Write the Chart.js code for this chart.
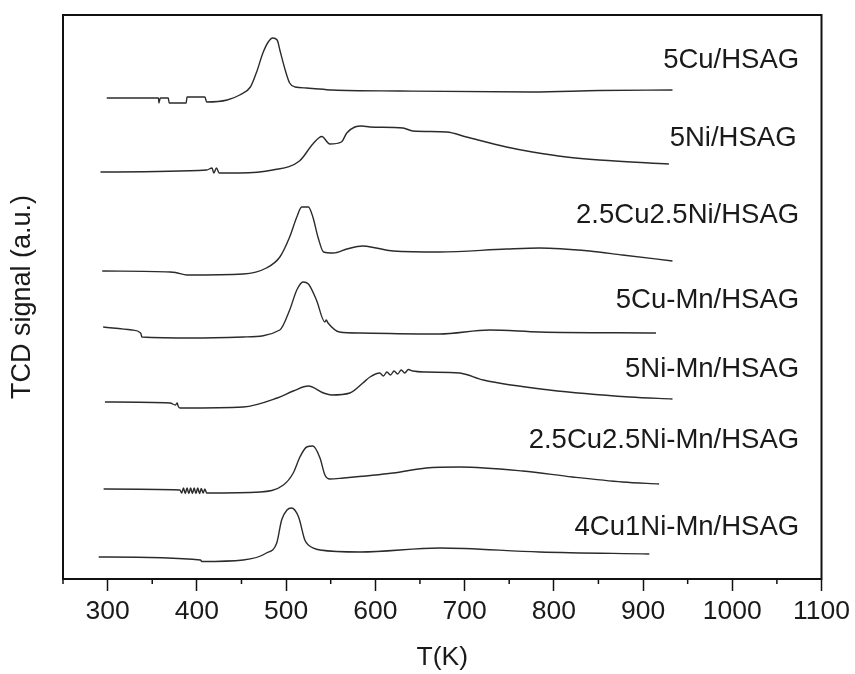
<!DOCTYPE html>
<html><head><meta charset="utf-8">
<script src="https://cdn.jsdelivr.net/npm/chart.js@4.4.0/dist/chart.umd.min.js"></script>
<style>html,body{margin:0;padding:0;background:#fff;}canvas{display:block;}</style>
</head><body>
<canvas id="c" width="855" height="674"></canvas>
<script>
// ---- data (T in K, TCD signal in a.u.) ----
const seriesNames = ["5Cu/HSAG","5Ni/HSAG","2.5Cu2.5Ni/HSAG","5Cu-Mn/HSAG","5Ni-Mn/HSAG","2.5Cu2.5Ni-Mn/HSAG","4Cu1Ni-Mn/HSAG"];

const T_5Cu = [299,357,357.5,359,368,369,388,389,409,411,434,448,460,467,474,480,485,490,493,499,504,510,523,552,627,776,851,933];
const S_5Cu = [481,481,476,481,481,476,476,482,482,477,479,484,492,507,526,537,541,539,529,509,496,492,491,489,488,487,488.5,489];

const T_5Ni = [292,411,417,419,422,425,429,448,485,515,530,540,549,562,568,577,585,594,631,642,680,702,747,776,814,851,929];
const S_5Ni = [407,409,411,406,411,406,406,406,409,418,435,442.5,435,437,446,452,453,452,451,448,447,442,432,427,422,419,415];

const T_CuNi = [294,370,376,389,452,478,493,504,512,517.5,525,530,536,542,553,568,586,601,620,672,747,784,840,877,933];
const S_CuNi = [308,307,306.5,304,305,311,322,342,362,372,372,362,341,327,326,330,333,331,328,327,330,331,328,324,318];

const T_CuMn = [295,327,337,338.5,396,452,493,504,512,519,525,534,543.5,545,547,560,583,672,728,784,914.5];
const S_CuMn = [252,249,246,242,241,242,249,269,289,297,295,279,257,259,256,247,246,245,249,247,246];

const T_NiMn = [297,370,376,378,379,381,385,452,490,508,525,542,551,571.5,586,594,605,609,613,617,621,625,629,633,637,642,657,694.5,721,795,885,933];
const S_NiMn = [177,176,174,176,173,171,171,172,181,188,193,186,184,186,196,202,206,203,207,204,208,205,209,206,209.5,208,207,206,199,189,182,180];

const T_CuNiMn = [295.5,381,383,385,387,389,391,393,395,397,399,401,403,405,407,409,411,471,497,508,515.5,523,530,538,543.5,549,564,620,657,694.5,765,821,877,918];
const S_CuNiMn = [90,89,86,91,85.5,91,85.5,91,85.5,91,85.5,91,85.5,90.5,86,90,86,87,94,106,122,132,133,121,104,100,101,106,111,112,108,102,97,95];

const T_4Cu1Ni = [290,404,405.6,452,478,489.5,495,501,506,514,521,525,538,583,672,784,907];
const S_4Cu1Ni = [22,19,17.5,19,26,36,59,69,71,62,39,34,29,27,31,27,25];

const xTickValues = [300,400,500,600,700,800,900,1000,1100];
const xTickLabels = ["300","400","500","600","700","800","900","1000","1100"];
const xMinorTicks = [250,350,450,550,650,750,850,950,1050];

// ---- build ----
const seriesT = [T_5Cu,T_5Ni,T_CuNi,T_CuMn,T_NiMn,T_CuNiMn,T_4Cu1Ni];
const seriesS = [S_5Cu,S_5Ni,S_CuNi,S_CuMn,S_NiMn,S_CuNiMn,S_4Cu1Ni];

const FONT = '"Liberation Sans", Arial, Helvetica, sans-serif';
Chart.defaults.font.family = FONT;
Chart.defaults.color = '#1a1a1a';

const datasets = seriesNames.map((name,i)=>({
  label: name,
  data: seriesT[i].map((t,j)=>({x:t, y:seriesS[i][j]})),
  borderColor: '#2b2b2b',
  borderWidth: 1.4,
  pointRadius: 0,
  fill: false,
  cubicInterpolationMode: 'monotone'
}));

const framePlugin = {
  id: 'frame',
  afterDraw(chart){
    const {ctx, chartArea:a, scales:{x}} = chart;
    ctx.save();
    ctx.strokeStyle = '#111';
    ctx.lineWidth = 1.5;
    xMinorTicks.forEach(v=>{
      const px = x.getPixelForValue(v);
      ctx.beginPath(); ctx.moveTo(px, a.bottom); ctx.lineTo(px, a.bottom+5); ctx.stroke();
    });
    ctx.lineWidth = 2;
    ctx.strokeRect(a.left, a.top, a.right-a.left, a.bottom-a.top);
    ctx.restore();
  }
};

const labelPlugin = {
  id: 'seriesLabels',
  afterDatasetsDraw(chart, args, opts){
    const {ctx, scales:{x,y}} = chart;
    ctx.save();
    ctx.font = opts.font;
    ctx.fillStyle = '#1a1a1a';
    ctx.textAlign = 'right';
    ctx.textBaseline = 'alphabetic';
    seriesNames.forEach((n,i)=>{
      const p = opts.anchors[i];
      ctx.fillText(n, x.getPixelForValue(p[0]), y.getPixelForValue(p[1]));
    });
    ctx.restore();
  }
};

new Chart(document.getElementById('c'), {
  type: 'line',
  data: { datasets },
  plugins: [framePlugin, labelPlugin],
  options: {
    responsive: false,
    animation: false,
    layout: { padding: { top: 15, right: 33, left: 0, bottom: 0 } },
    plugins: {
      legend: { display: false },
      tooltip: { enabled: false },
      seriesLabels: {
        font: '27.5px ' + FONT,
        anchors: [[1075,511],[1072,433.3],[1075,356],[1075,271],[1075,202],[1075,130.7],[1075,44]]
      }
    },
    scales: {
      x: {
        type: 'linear',
        min: 250, max: 1100,
        afterBuildTicks: s => { s.ticks = xTickValues.map(v=>({value:v})); },
        afterFit: s => { s.height = 95; },
        ticks: {
          autoSkip: false, maxRotation: 0, padding: 5,
          font: { size: 26.5 }, color: '#1a1a1a',
          callback: v => { const k = xTickValues.indexOf(v); return k >= 0 ? xTickLabels[k] : ''; }
        },
        grid: { display: true, drawOnChartArea: false, drawTicks: true, tickLength: 12, tickColor: '#111', tickWidth: 1.5 },
        border: { display: true, color: '#111', width: 2 },
        title: { display: true, text: 'T(K)', font: { size: 26.5 }, color: '#1a1a1a', padding: { top: 0, bottom: 0 } }
      },
      y: {
        type: 'linear',
        min: 0, max: 564,
        afterFit: s => { s.width = 63; },
        ticks: { display: false },
        grid: { display: false },
        border: { display: true, color: '#111', width: 2 },
        title: { display: true, text: 'TCD signal (a.u.)', font: { size: 27 }, color: '#1a1a1a', padding: { top: 6, bottom: 0 } }
      }
    }
  }
});
</script>
</body></html>
